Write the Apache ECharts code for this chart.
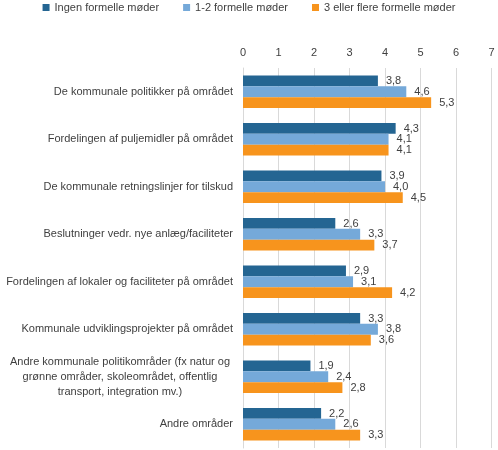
<!DOCTYPE html>
<html><head><meta charset="utf-8">
<script src="https://cdn.jsdelivr.net/npm/echarts@6/dist/echarts.min.js"></script>
<style>html,body{margin:0;padding:0;background:#fff}#c{width:498px;height:450px}</style>
</head><body><div id="c"></div>
<script>
const categories = [
  "De kommunale politikker på området",
  "Fordelingen af puljemidler på området",
  "De kommunale retningslinjer for tilskud",
  "Beslutninger vedr. nye anlæg/faciliteter",
  "Fordelingen af lokaler og faciliteter på området",
  "Kommunale udviklingsprojekter på området",
  "Andre kommunale politikområder (fx natur og\ngrønne områder, skoleområdet, offentlig\ntransport, integration mv.)",
  "Andre områder"
];
const seriesNames = ["Ingen formelle møder", "1-2 formelle møder", "3 eller flere formelle møder"];
const ingen = [3.8, 4.3, 3.9, 2.6, 2.9, 3.3, 1.9, 2.2];
const enTo = [4.6, 4.1, 4.0, 3.3, 3.1, 3.8, 2.4, 2.6];
const treFlere = [5.3, 4.1, 4.5, 3.7, 4.2, 3.6, 2.8, 3.3];
const xTicks = [0, 1, 2, 3, 4, 5, 6, 7];
const colors = ["#246592", "#75A9D9", "#F7941D"];

const FONT = "Liberation Sans";
const chart = echarts.init(document.getElementById('c'), null, {renderer: 'canvas'});
const mk = (name, data, i) => ({
  name, type: 'bar', data, barGap: '0%', barCategoryGap: '32%',
  itemStyle: {color: colors[i]},
  label: {show: true, position: 'right', distance: 8, color: '#404040', fontSize: 11, fontFamily: FONT,
    formatter: p => p.value.toFixed(1).replace('.', ',')}
});
chart.setOption({
  animation: false,
  textStyle: {fontFamily: FONT},
  legend: {
    top: -3, left: 'center', icon: 'rect', itemWidth: 7, itemHeight: 7, itemGap: 24,
    textStyle: {fontSize: 11, color: '#404040', fontFamily: FONT},
    data: seriesNames
  },
  grid: {left: 243, right: 6.5, top: 68, bottom: 2, containLabel: false},
  xAxis: {
    type: 'value', position: 'top', min: xTicks[0], max: xTicks[xTicks.length - 1], interval: 1,
    axisLine: {show: false}, axisTick: {show: false},
    axisLabel: {color: '#404040', fontSize: 11, fontFamily: FONT, margin: 10},
    splitLine: {lineStyle: {color: '#d9d9d9', width: 1}}
  },
  yAxis: {
    type: 'category', inverse: true, data: categories,
    axisLine: {show: true, lineStyle: {color: '#d9d9d9'}}, axisTick: {show: false},
    axisLabel: {
      color: '#404040', fontSize: 11, fontFamily: FONT, margin: 10, lineHeight: 15,
      formatter: v => v.indexOf('\n') >= 0 ? v.split('\n').map(s => '{c|' + s + '}').join('\n') : v,
      rich: {c: {width: 226, align: 'center', fontSize: 11, fontFamily: FONT, color: '#404040', lineHeight: 15}}
    }
  },
  series: [mk(seriesNames[0], ingen, 0), mk(seriesNames[1], enTo, 1), mk(seriesNames[2], treFlere, 2)]
});
</script></body></html>
